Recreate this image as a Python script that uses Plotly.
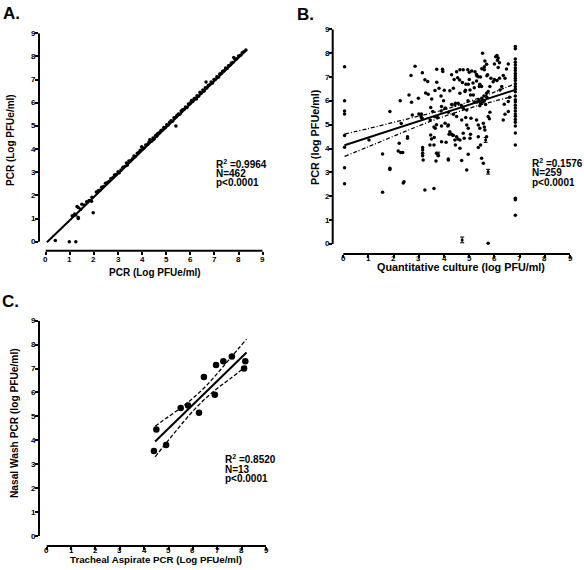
import plotly.graph_objects as go

# ---------------- Panel A data ----------------
a_x = [0.40, 0.98, 1.25, 1.10, 1.20, 1.25, 1.30, 1.35, 1.35, 1.35, 1.45, 1.50, 1.60, 1.70, 1.80, 1.90, 1.92, 1.97,
       2.10, 2.18, 2.25, 2.32, 2.40, 2.48, 2.55, 2.62, 2.70, 2.78, 2.85, 2.92, 3.00, 3.05, 3.12, 3.20, 3.28, 3.35,
       3.38, 3.45, 3.52, 3.60, 3.66, 3.72, 3.80, 3.86, 3.92, 3.98, 4.02, 4.08, 4.15, 4.22, 4.28, 4.35, 4.40, 4.45,
       4.50, 4.55, 4.60, 4.66, 4.72, 4.78, 4.84, 4.90, 4.96, 5.02, 5.08, 5.14, 5.20, 5.26, 5.32, 5.38, 5.40, 5.44,
       5.50, 5.56, 5.62, 5.68, 5.74, 5.80, 5.86, 5.92, 5.98, 6.04, 6.10, 6.16, 6.22, 6.28, 6.34, 6.40, 6.46, 6.52,
       6.56, 6.62, 6.65, 6.68, 6.74, 6.80, 6.86, 6.92, 6.98, 7.04, 7.10, 7.16, 7.22, 7.28, 7.34, 7.40, 7.46, 7.52,
       7.58, 7.64, 7.70, 7.76, 7.80, 7.85, 7.92, 8.00, 8.08, 8.15, 8.22, 8.30, 4.32, 4.48, 4.62, 6.05, 6.25, 6.42]
a_y = [0.05, 0.00, 0.00, 1.12, 1.20, 1.15, 1.52, 1.48, 1.00, 1.05, 1.40, 1.62, 1.58, 1.72, 1.78, 1.75, 1.92, 1.25,
       2.15, 2.20, 2.22, 2.35, 2.38, 2.52, 2.55, 2.60, 2.72, 2.76, 2.88, 2.90, 3.02, 2.98, 3.10, 3.22, 3.25, 3.40,
       3.30, 3.48, 3.50, 3.58, 3.70, 3.68, 3.82, 3.85, 3.95, 4.10, 4.00, 4.05, 4.18, 4.20, 4.30, 4.38, 4.35, 4.48,
       4.46, 4.58, 4.55, 4.68, 4.70, 4.80, 4.82, 4.93, 4.92, 5.05, 5.04, 5.16, 5.22, 5.20, 5.35, 5.36, 5.00, 5.45,
       5.52, 5.50, 5.64, 5.70, 5.72, 5.82, 5.80, 5.95, 5.96, 6.07, 6.05, 6.18, 6.20, 6.30, 6.28, 6.45, 6.42, 6.55,
       6.50, 6.65, 6.90, 6.64, 6.75, 6.78, 6.90, 6.85, 7.00, 7.02, 7.12, 7.10, 7.24, 7.26, 7.36, 7.38, 7.50, 7.48,
       7.60, 7.62, 7.72, 7.74, 7.95, 7.88, 7.90, 8.02, 8.05, 8.16, 8.20, 8.28, 4.40, 4.42, 4.64, 6.10, 6.16, 6.40]
a_fit_x = [0.05, 8.35]
a_fit_y = [-0.02, 8.30]
a_stats = ["R<sup>2</sup> =0.9964", "N=462", "p&lt;0.0001"]

# ---------------- Panel B data ----------------
b_x = [1.02, 1.56, 1.56, 1.85, 1.85, 2.18, 2.28, 2.36, 2.22, 2.41,
       2.55, 2.26, 2.30, 2.61, 2.69, 2.71, 2.74, 2.85, 2.98, 3.00,
       3.08, 3.13, 3.14, 3.15, 3.15, 3.15, 3.15, 3.17, 3.24, 3.24,
       3.27, 3.35, 3.37, 3.44, 3.47, 3.47, 3.50, 3.51, 3.60, 3.60,
       3.61, 3.64, 3.64, 3.68, 3.70, 3.71, 3.71, 3.77, 3.80, 3.88,
       3.88, 3.90, 3.90, 3.94, 3.95, 3.98, 4.01, 4.06, 4.08, 4.17,
       3.55, 3.60, 3.65, 3.70, 3.90, 4.15, 4.20, 4.30, 4.35, 4.45,
       4.55, 4.63, 4.70, 4.43, 4.80, 4.96, 4.90, 5.36, 5.45, 5.49,
       5.56, 5.75, 4.17, 5.53, 6.10, 6.15, 6.12, 6.05, 5.62, 5.69,
       5.60, 6.48, 5.23, 5.29, 5.36, 4.63, 4.76, 4.94, 4.50, 4.30,
       4.54, 4.62, 4.73, 4.87, 4.96, 5.29, 5.42, 5.49, 5.73, 5.86,
       5.95, 5.82, 6.35, 6.42, 6.29, 6.22, 4.23, 4.37, 4.63, 4.83,
       5.03, 5.16, 5.30, 5.38, 5.45, 5.50, 5.42, 5.69, 5.75, 6.39,
       6.55, 4.43, 4.56, 4.76, 4.90, 4.04, 4.17, 4.37, 4.50, 4.70,
       4.86, 5.07, 5.29, 5.75, 5.82, 6.35, 6.42, 4.04, 4.17, 4.23,
       4.37, 4.50, 4.76, 4.90, 4.96, 5.36, 5.42, 5.56, 5.62, 5.03,
       4.63, 5.36, 5.69, 5.55, 5.60, 5.65, 5.70, 5.58, 5.50, 5.60,
       5.70, 6.00, 6.10, 6.20, 6.00, 6.20, 6.15, 6.55, 5.00, 5.10,
       5.30, 5.45, 4.40, 5.00, 5.15, 4.85, 5.20, 5.40, 4.95, 5.05,
       5.20, 4.30, 4.45, 4.70, 3.75, 3.45, 3.10, 3.10, 2.55, 1.85,
       2.38, 5.80, 5.60, 5.05, 6.60, 6.55,
       0.05, 0.05, 0.05, 0.05, 0.05, 0.05, 0.05, 0.05,
       6.83, 6.83, 6.83, 6.83, 6.83, 6.83, 6.83, 6.83, 6.83, 6.83,
       6.83, 6.83, 6.83, 6.83, 6.83, 6.83, 6.83, 6.83, 6.83, 6.83,
       6.83, 6.83, 6.83, 6.83, 6.83, 6.83, 6.83, 6.83, 6.83, 6.83, 6.83]
b_y = [4.36, 3.77, 2.17, 3.17, 5.55, 3.90, 3.84, 3.84, 4.22, 2.61,
       4.43, 6.00, 5.05, 6.25, 7.06, 5.94, 5.41, 7.45, 6.11, 5.45,
       5.38, 5.27, 7.18, 4.04, 3.94, 3.80, 3.70, 3.52, 2.26, 6.88,
       6.33, 6.81, 6.28, 4.15, 4.57, 5.72, 4.40, 6.08, 2.33, 4.15,
       4.46, 6.43, 5.33, 3.48, 3.80, 7.32, 6.78, 3.70, 6.53, 6.20,
       5.58, 5.76, 4.29, 7.32, 7.23, 6.00, 6.44, 5.69, 4.26, 3.52,
       5.55, 4.90, 4.85, 5.00, 4.95, 4.95, 4.60, 4.60, 4.55, 4.15,
       4.40, 4.01, 3.50, 4.36, 4.43, 3.76, 3.10, 4.04, 4.15, 3.59,
       3.38, 0.03, 3.56, 8.00, 7.90, 7.80, 7.70, 7.85, 7.67, 7.53,
       7.43, 7.34, 7.22, 7.11, 7.01, 7.30, 7.30, 7.30, 7.22, 7.09,
       6.97, 6.87, 6.77, 6.70, 6.70, 6.83, 6.70, 6.60, 7.09, 6.95,
       6.80, 6.60, 7.06, 6.95, 6.60, 6.46, 6.42, 6.53, 6.32, 6.39,
       6.46, 6.25, 5.95, 6.05, 5.90, 6.10, 5.80, 6.32, 6.39, 5.86,
       5.97, 5.83, 5.90, 5.69, 5.62, 5.69, 5.52, 5.44, 5.34, 5.20,
       5.30, 5.27, 5.20, 5.34, 5.52, 5.20, 5.44, 5.06, 4.99, 4.70,
       4.56, 4.50, 4.64, 4.99, 4.85, 4.99, 4.85, 5.06, 4.78, 4.43,
       4.36, 4.50, 4.50, 5.95, 6.00, 5.85, 6.15, 6.20, 7.35, 7.30,
       7.05, 6.90, 6.85, 6.95, 7.55, 7.60, 7.40, 7.55, 7.20, 7.25,
       7.05, 7.00, 6.90, 6.90, 6.75, 6.45, 6.55, 6.60, 6.00, 6.25,
       5.95, 5.85, 5.90, 5.80, 5.30, 5.20, 5.45, 5.30, 4.50, 3.12,
       2.56, 5.25, 4.90, 4.60, 6.15, 5.55,
       7.43, 6.00, 5.58, 5.45, 4.55, 4.05, 3.20, 2.52,
       8.28, 8.18, 7.75, 7.62, 7.50, 7.38, 7.27, 7.15, 7.05, 6.95,
       6.85, 6.72, 6.60, 6.50, 6.38, 6.20, 6.05, 5.95, 5.82, 5.70,
       5.58, 5.45, 5.35, 5.22, 5.10, 4.95, 4.65, 4.15, 1.92, 1.85, 1.20]
b_err_x = [3.77, 4.72, 5.65, 5.75]
b_err_y = [3.77, 0.17, 4.36, 3.03]
b_err = [0.08, 0.12, 0.10, 0.10]
b_fit_x = [0.05, 6.85]
b_fit_y = [4.14, 6.47]
b_band_x = [0.05, 1.0, 2.0, 3.0, 4.0, 5.0, 6.0, 6.85]
b_band_hi = [4.61, 4.84, 5.10, 5.36, 5.63, 5.97, 6.37, 6.73]
b_band_lo = [3.67, 4.08, 4.52, 4.95, 5.35, 5.69, 5.99, 6.21]
b_stats = ["R<sup>2</sup> =0.1576", "N=259", "p&lt;0.0001"]

# ---------------- Panel C data ----------------
c_x = [4.40, 4.50, 4.90, 5.50, 5.80, 6.25, 6.45, 6.90, 6.95, 7.25, 7.60, 8.10, 8.15]
c_y = [3.55, 4.45, 3.80, 5.35, 5.45, 5.15, 6.65, 5.90, 7.15, 7.30, 7.50, 7.00, 7.30]
c_fit_x = [4.45, 8.20]
c_fit_y = [3.95, 7.67]
c_band_x = [4.45, 5.0, 5.5, 6.0, 6.5, 7.0, 7.5, 8.2]
c_band_hi = [4.59, 4.99, 5.35, 5.76, 6.23, 6.79, 7.39, 8.23]
c_band_lo = [3.31, 4.01, 4.63, 5.22, 5.73, 6.17, 6.55, 7.11]
c_stats = ["R<sup>2</sup> =0.8520", "N=13", "p&lt;0.0001"]

ticks = [0, 1, 2, 3, 4, 5, 6, 7, 8, 9]
tick_text = ["0", "1", "2", "3", "4", "5", "6", "7", "8", "9"]

FONT = "Arial, Liberation Sans, sans-serif"
W, H = 584, 570


def px_x(p):
    return p / W


def px_y(p):
    return 1 - p / H


fig = go.Figure()

# Panel A
fig.add_trace(go.Scatter(x=a_x, y=a_y, mode="markers", xaxis="x", yaxis="y",
                         marker=dict(color="black", size=3.5), showlegend=False))
fig.add_trace(go.Scatter(x=a_fit_x, y=a_fit_y, mode="lines", xaxis="x", yaxis="y",
                         line=dict(color="black", width=2), showlegend=False))

# Panel B
fig.add_trace(go.Scatter(x=b_x, y=b_y, mode="markers", xaxis="x2", yaxis="y2",
                         marker=dict(color="black", size=3.5), showlegend=False))
fig.add_trace(go.Scatter(x=b_err_x, y=b_err_y, mode="markers", xaxis="x2", yaxis="y2",
                         marker=dict(color="black", size=3),
                         error_y=dict(type="data", array=b_err, color="black", thickness=1, width=2),
                         showlegend=False))
fig.add_trace(go.Scatter(x=b_fit_x, y=b_fit_y, mode="lines", xaxis="x2", yaxis="y2",
                         line=dict(color="black", width=2), showlegend=False))
for band in (b_band_hi, b_band_lo):
    fig.add_trace(go.Scatter(x=b_band_x, y=band, mode="lines", xaxis="x2", yaxis="y2",
                             line=dict(color="black", width=1.3, dash="4px,2px,1px,2px", shape="spline"),
                             showlegend=False))

# Panel C
fig.add_trace(go.Scatter(x=c_x, y=c_y, mode="markers", xaxis="x3", yaxis="y3",
                         marker=dict(color="black", size=6.5), showlegend=False))
fig.add_trace(go.Scatter(x=c_fit_x, y=c_fit_y, mode="lines", xaxis="x3", yaxis="y3",
                         line=dict(color="black", width=2), showlegend=False))
for band in (c_band_hi, c_band_lo):
    fig.add_trace(go.Scatter(x=c_band_x, y=band, mode="lines", xaxis="x3", yaxis="y3",
                             line=dict(color="black", width=1.3, dash="4px,2px", shape="spline"),
                             showlegend=False))


def ax(dom, rng, anchor):
    return dict(domain=dom, range=rng, anchor=anchor, tickvals=ticks, ticks="outside", ticklen=3,
                tickwidth=1.5, tickcolor="black", showline=False, showgrid=False, zeroline=False,
                showticklabels=False, fixedrange=True)


fig.update_layout(
    width=W, height=H, margin=dict(l=0, r=0, t=0, b=0),
    paper_bgcolor="white", plot_bgcolor="white",
    xaxis=ax([px_x(39), px_x(262.7)], [-0.278, 9], "y"),
    yaxis=ax([px_y(250.7), px_y(33.3)], [-0.389, 9], "x"),
    xaxis2=ax([px_x(332.7), px_x(570)], [-0.42, 9], "y2"),
    yaxis2=ax([px_y(254), px_y(29.3)], [-0.42, 9], "x2"),
    xaxis3=ax([px_x(39), px_x(266)], [-0.316, 9], "y3"),
    yaxis3=ax([px_y(546), px_y(320.7)], [-0.418, 9], "x3"),
)

shapes = []
for xa, ya in (("x", "y"), ("x2", "y2"), ("x3", "y3")):
    shapes.append(dict(type="line", xref=xa, yref=ya + " domain", x0=0, x1=9, y0=0, y1=0,
                       line=dict(color="black", width=2)))
    shapes.append(dict(type="line", xref=xa + " domain", yref=ya, x0=0, x1=0, y0=0, y1=9,
                       line=dict(color="black", width=2)))
fig.update_layout(shapes=shapes)

ann = []


def text(x, y, s, size, angle=0, xanchor="center", xref="paper", yref="paper"):
    ann.append(dict(x=px_x(x) if xref == "paper" else x, y=px_y(y) if yref == "paper" else y,
                    xref=xref, yref=yref, text=s, showarrow=False, borderpad=0,
                    textangle=angle, xanchor=xanchor, yanchor="middle",
                    font=dict(family=FONT, size=size, color="black", weight="bold")))


# tick labels
TICK = 8
for xa, ya, xlab_y, ylab_x in (("x", "y", 259.0, 36.5), ("x2", "y2", 258.3, 330.5), ("x3", "y3", 550.3, 36.5)):
    for v, t in zip(ticks, tick_text):
        text(v, xlab_y, t, TICK, xref=xa)
        text(ylab_x, v, t, TICK, xanchor="right", yref=ya)

# panel letters
text(2, 14, "A.", 17, xanchor="left")
text(296, 15, "B.", 17, xanchor="left")
text(1, 301, "C.", 17, xanchor="left")

# axis titles
text(155, 273, "PCR (Log PFUe/ml)", 10)
text(10, 140, "PCR (Log PFUe/ml)", 10, angle=-90)
text(461, 267, "Quantitative culture (log PFU/ml)", 10.8)
text(315, 137, "PCR (log PFUe/ml)", 10.8, angle=-90)
text(156, 559, "Tracheal Aspirate PCR (Log PFUe/ml)", 9.7)
text(14, 423, "Nasal Wash PCR (log PFUe/ml)", 10.2, angle=-90)

# stats
for (x0, y0, lines) in ((215, 163.5, a_stats), (531, 163, b_stats), (224, 459.3, c_stats)):
    for i, s in enumerate(lines):
        text(x0, y0 + i * 9.7, s, 10, xanchor="left")

fig.update_layout(annotations=ann)
fig.write_html("out.html", config={"displayModeBar": False},
               post_script="document.body.style.margin='0';document.body.style.padding='0';"
                           "document.documentElement.style.overflow='hidden';")
